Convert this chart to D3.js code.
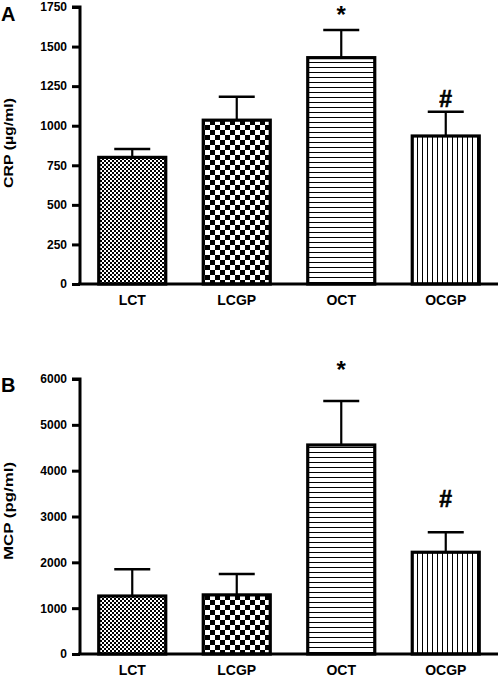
<!DOCTYPE html>
<html>
<head>
<meta charset="utf-8">
<script src="https://cdn.jsdelivr.net/npm/d3@7"></script>
<style>
  html, body { margin: 0; padding: 0; background: #fff; }
  svg { display: block; }
  text { font-family: "Liberation Sans", Arial, sans-serif; font-weight: bold; fill: #000; }
</style>
</head>
<body>
<script>
// ---- data ----
const categories = ["LCT", "LCGP", "OCT", "OCGP"];
const patterns = ["fineCheck", "coarseCheck", "hLines", "vLines"];

const crpMeans = [800, 1035, 1430, 935];
const crpErrors = [53, 148, 175, 153];
const crpTicks = [0, 250, 500, 750, 1000, 1250, 1500, 1750];
const crpMarks = ["", "", "*", "#"];
const crpMarkAt = [null, null, 1735, 1166];

const mcpMeans = [1265, 1290, 4560, 2220];
const mcpErrors = [585, 455, 960, 435];
const mcpTicks = [0, 1000, 2000, 3000, 4000, 5000, 6000];
const mcpMarks = ["", "", "*", "#"];
const mcpMarkAt = [null, null, 6316, 3393];

const W = 500, H = 678;
const svg = d3.select("body").append("svg").attr("width", W).attr("height", H);

// ---- patterns ----
const defs = svg.append("defs");
{
  const p = defs.append("pattern").attr("id", "fineCheck").attr("patternUnits", "userSpaceOnUse")
    .attr("width", 4).attr("height", 4);
  p.append("rect").attr("width", 4).attr("height", 4).attr("fill", "#fff");
  p.append("rect").attr("x", 0).attr("y", 0).attr("width", 2).attr("height", 2).attr("fill", "#000");
  p.append("rect").attr("x", 2).attr("y", 2).attr("width", 2).attr("height", 2).attr("fill", "#000");
}
{
  const p = defs.append("pattern").attr("id", "coarseCheck").attr("patternUnits", "userSpaceOnUse")
    .attr("width", 10).attr("height", 10);
  p.append("rect").attr("width", 10).attr("height", 10).attr("fill", "#fff");
  p.append("rect").attr("x", 0).attr("y", 0).attr("width", 5).attr("height", 5).attr("fill", "#000");
  p.append("rect").attr("x", 5).attr("y", 5).attr("width", 5).attr("height", 5).attr("fill", "#000");
}
{
  const p = defs.append("pattern").attr("id", "hLines").attr("patternUnits", "userSpaceOnUse")
    .attr("width", 10).attr("height", 5);
  p.append("rect").attr("width", 10).attr("height", 5).attr("fill", "#fff");
  p.append("rect").attr("x", 0).attr("y", 2).attr("width", 10).attr("height", 1).attr("fill", "#000");
}
{
  const p = defs.append("pattern").attr("id", "vLines").attr("patternUnits", "userSpaceOnUse")
    .attr("width", 5).attr("height", 10);
  p.append("rect").attr("width", 5).attr("height", 10).attr("fill", "#fff");
  p.append("rect").attr("x", 2).attr("y", 0).attr("width", 1).attr("height", 10).attr("fill", "#000");
}

function panel(cfg) {
  const g = svg.append("g");
  const x = d3.scaleBand().domain(categories).range([80, 498]).paddingInner(0.33).paddingOuter(0.165);
  const y = d3.scaleLinear().domain([0, cfg.max]).range([cfg.y0, cfg.y1]);

  // bars
  categories.forEach((c, i) => {
    const bx = x(c), bw = x.bandwidth();
    const top = y(cfg.means[i]);
    const cx = bx + bw / 2;
    // error bar
    const et = y(cfg.means[i] + cfg.errors[i]);
    g.append("line").attr("x1", cx).attr("x2", cx).attr("y1", top).attr("y2", et)
      .attr("stroke", "#000").attr("stroke-width", 2.2);
    g.append("line").attr("x1", cx - 18).attr("x2", cx + 18).attr("y1", et).attr("y2", et)
      .attr("stroke", "#000").attr("stroke-width", 2.5);
    g.append("rect").attr("x", bx + 1.5).attr("y", top).attr("width", bw - 3)
      .attr("height", cfg.y0 - top)
      .attr("fill", `url(#${patterns[i]})`).attr("stroke", "#000").attr("stroke-width", 3.2);
    if (cfg.marks[i]) {
      const isStar = cfg.marks[i] === "*";
      g.append("text").attr("x", cx).attr("y", y(cfg.markAt[i]))
        .attr("text-anchor", "middle")
        .attr("dy", isStar ? "0.55em" : "0.35em")
        .style("font-size", isStar ? "24px" : "23px")
        .style("stroke", isStar ? "none" : "#000").style("stroke-width", isStar ? 0 : 0.6)
        .text(cfg.marks[i]);
    }
  });

  // y axis
  const ay = g.append("g").attr("transform", "translate(80,0)")
    .call(d3.axisLeft(y).tickValues(cfg.ticks).tickSize(8).tickPadding(5).tickFormat(d3.format("d")));
  ay.select(".domain").attr("stroke-width", 3).attr("d", `M-8,${cfg.y1}H0V${cfg.y0}`);
  ay.selectAll(".tick line").attr("stroke-width", 3);
  ay.selectAll(".tick text").style("font-size", "12px").style("font-family", null);

  // x axis
  const ax = g.append("g").attr("transform", `translate(0,${cfg.y0})`)
    .call(d3.axisBottom(x).tickSize(0).tickPadding(cfg.xPad));
  ax.select(".domain").attr("stroke-width", 3).attr("d", "M78,0H498");
  ax.selectAll(".tick text").style("font-size", "14px").style("font-family", null);

  // y title
  g.append("text").attr("transform", `translate(13,${cfg.titleY}) rotate(-90)`)
    .attr("text-anchor", "middle").style("font-size", "13px")
    .attr("textLength", cfg.titleLen).attr("lengthAdjust", "spacingAndGlyphs")
    .text(cfg.title);

  // panel letter
  g.append("text").attr("x", 1).attr("y", cfg.letterY).style("font-size", "20px").text(cfg.letter);
}

panel({ means: crpMeans, errors: crpErrors, ticks: crpTicks, marks: crpMarks, markAt: crpMarkAt,
  max: 1750, y0: 284, y1: 7, title: "CRP (\u00b5g/ml)", titleY: 143, titleLen: 90,
  letter: "A", letterY: 21, xPad: 11 });
panel({ means: mcpMeans, errors: mcpErrors, ticks: mcpTicks, marks: mcpMarks, markAt: mcpMarkAt,
  max: 6000, y0: 654, y1: 379, title: "MCP (pg/ml)", titleY: 511, titleLen: 98,
  letter: "B", letterY: 392, xPad: 11 });
</script>
</body>
</html>
